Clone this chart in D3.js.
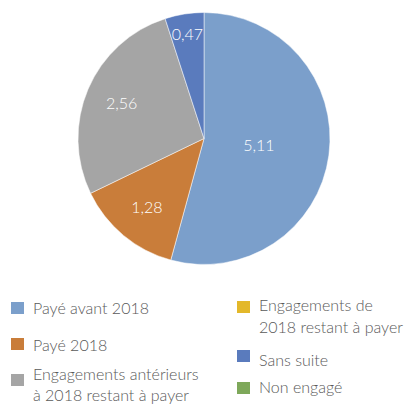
<!DOCTYPE html>
<html>
<head>
<meta charset="utf-8">
<script src="https://cdn.jsdelivr.net/npm/d3@7"></script>
<style>
  html, body { margin: 0; padding: 0; background: #fff; }
  svg { display: block; font-family: "Lato", "Open Sans", sans-serif; }
</style>
</head>
<body>
<div id="chart"></div>
<script>
const categories = [
    'Payé avant 2018',
    'Payé 2018',
    'Engagements antérieurs à 2018 restant à payer',
    'Engagements de 2018 restant à payer',
    'Sans suite',
    'Non engagé'
];
const values = [5.11, 1.28, 2.56, 0, 0.47, 0];
const colors = ['#7b9fcb', '#c97d3a', '#a5a5a5', '#e3b82a', '#5a7bbd', '#7ea85a'];
// legend lines (wrapped as in the original)
const legendLines = [
    ['Payé avant 2018'],
    ['Payé 2018'],
    ['Engagements antérieurs', 'à 2018 restant à payer'],
    ['Engagements de', '2018 restant à payer'],
    ['Sans suite'],
    ['Non engagé']
];

const width = 406, height = 408;
const cx = 204, cy = 138.5, radius = 126;

const svg = d3.select('#chart')
    .append('svg')
    .attr('width', width)
    .attr('height', height);

const data = categories.map((c, i) => ({ name: c, value: values[i], color: colors[i] }));

const pie = d3.pie()
    .sort(null)
    .value(d => d.value);

const arcs = pie(data);
const arc = d3.arc().innerRadius(0).outerRadius(radius);
const total = d3.sum(values);

const g = svg.append('g')
    .attr('transform', `translate(${cx},${cy})`);

g.selectAll('path.slice')
    .data(arcs.filter(a => a.data.value > 0))
    .enter()
    .append('path')
    .attr('class', 'slice')
    .attr('d', arc)
    .style('fill', d => d.data.color)
    .style('stroke', '#fff')
    .style('stroke-width', 0.5);

// label radius depends on slice share (best fit style)
const labelRadius = d => {
    const share = d.data.value / total;
    if (share > 0.4) return radius * 0.44;
    if (share < 0.08) return radius * 0.84;
    return radius * 0.71;
};
const fmt = v => d3.format('.2f')(v).replace('.', ',');

g.selectAll('text.val')
    .data(arcs.filter(a => a.data.value > 0))
    .enter()
    .append('text')
    .attr('class', 'val')
    .attr('transform', d => {
        const r = labelRadius(d);
        const c = d3.arc().innerRadius(r).outerRadius(r).centroid(d);
        return `translate(${c[0]},${c[1]})`;
    })
    .attr('dy', '0.35em')
    .style('text-anchor', 'middle')
    .style('fill', '#fff')
    .style('font-size', '16px')
    .style('font-weight', 300)
    .text(d => fmt(d.data.value));

// legend
const legendPos = [
    { x: 11, y: 308 }, { x: 11, y: 344 }, { x: 11, y: 380 },
    { x: 237, y: 307 }, { x: 237, y: 356 }, { x: 237, y: 388 }
];
const textY = [
    [308], [345], [374, 395],
    [305, 327], [360], [387]
];

const legend = svg.selectAll('g.legend')
    .data(data)
    .enter()
    .append('g')
    .attr('class', 'legend');

legend.append('rect')
    .attr('x', (d, i) => legendPos[i].x)
    .attr('y', (d, i) => legendPos[i].y - 6)
    .attr('width', 13)
    .attr('height', 12)
    .style('fill', d => d.color);

legend.each(function (d, i) {
    const sel = d3.select(this);
    legendLines[i].forEach((line, j) => {
        sel.append('text')
            .attr('x', legendPos[i].x + 22)
            .attr('y', textY[i][j])
            .attr('dy', '0.35em')
            .style('fill', '#595959')
            .style('font-size', '16px')
            .style('font-weight', 300)
            .text(line);
    });
});
</script>
</body>
</html>
